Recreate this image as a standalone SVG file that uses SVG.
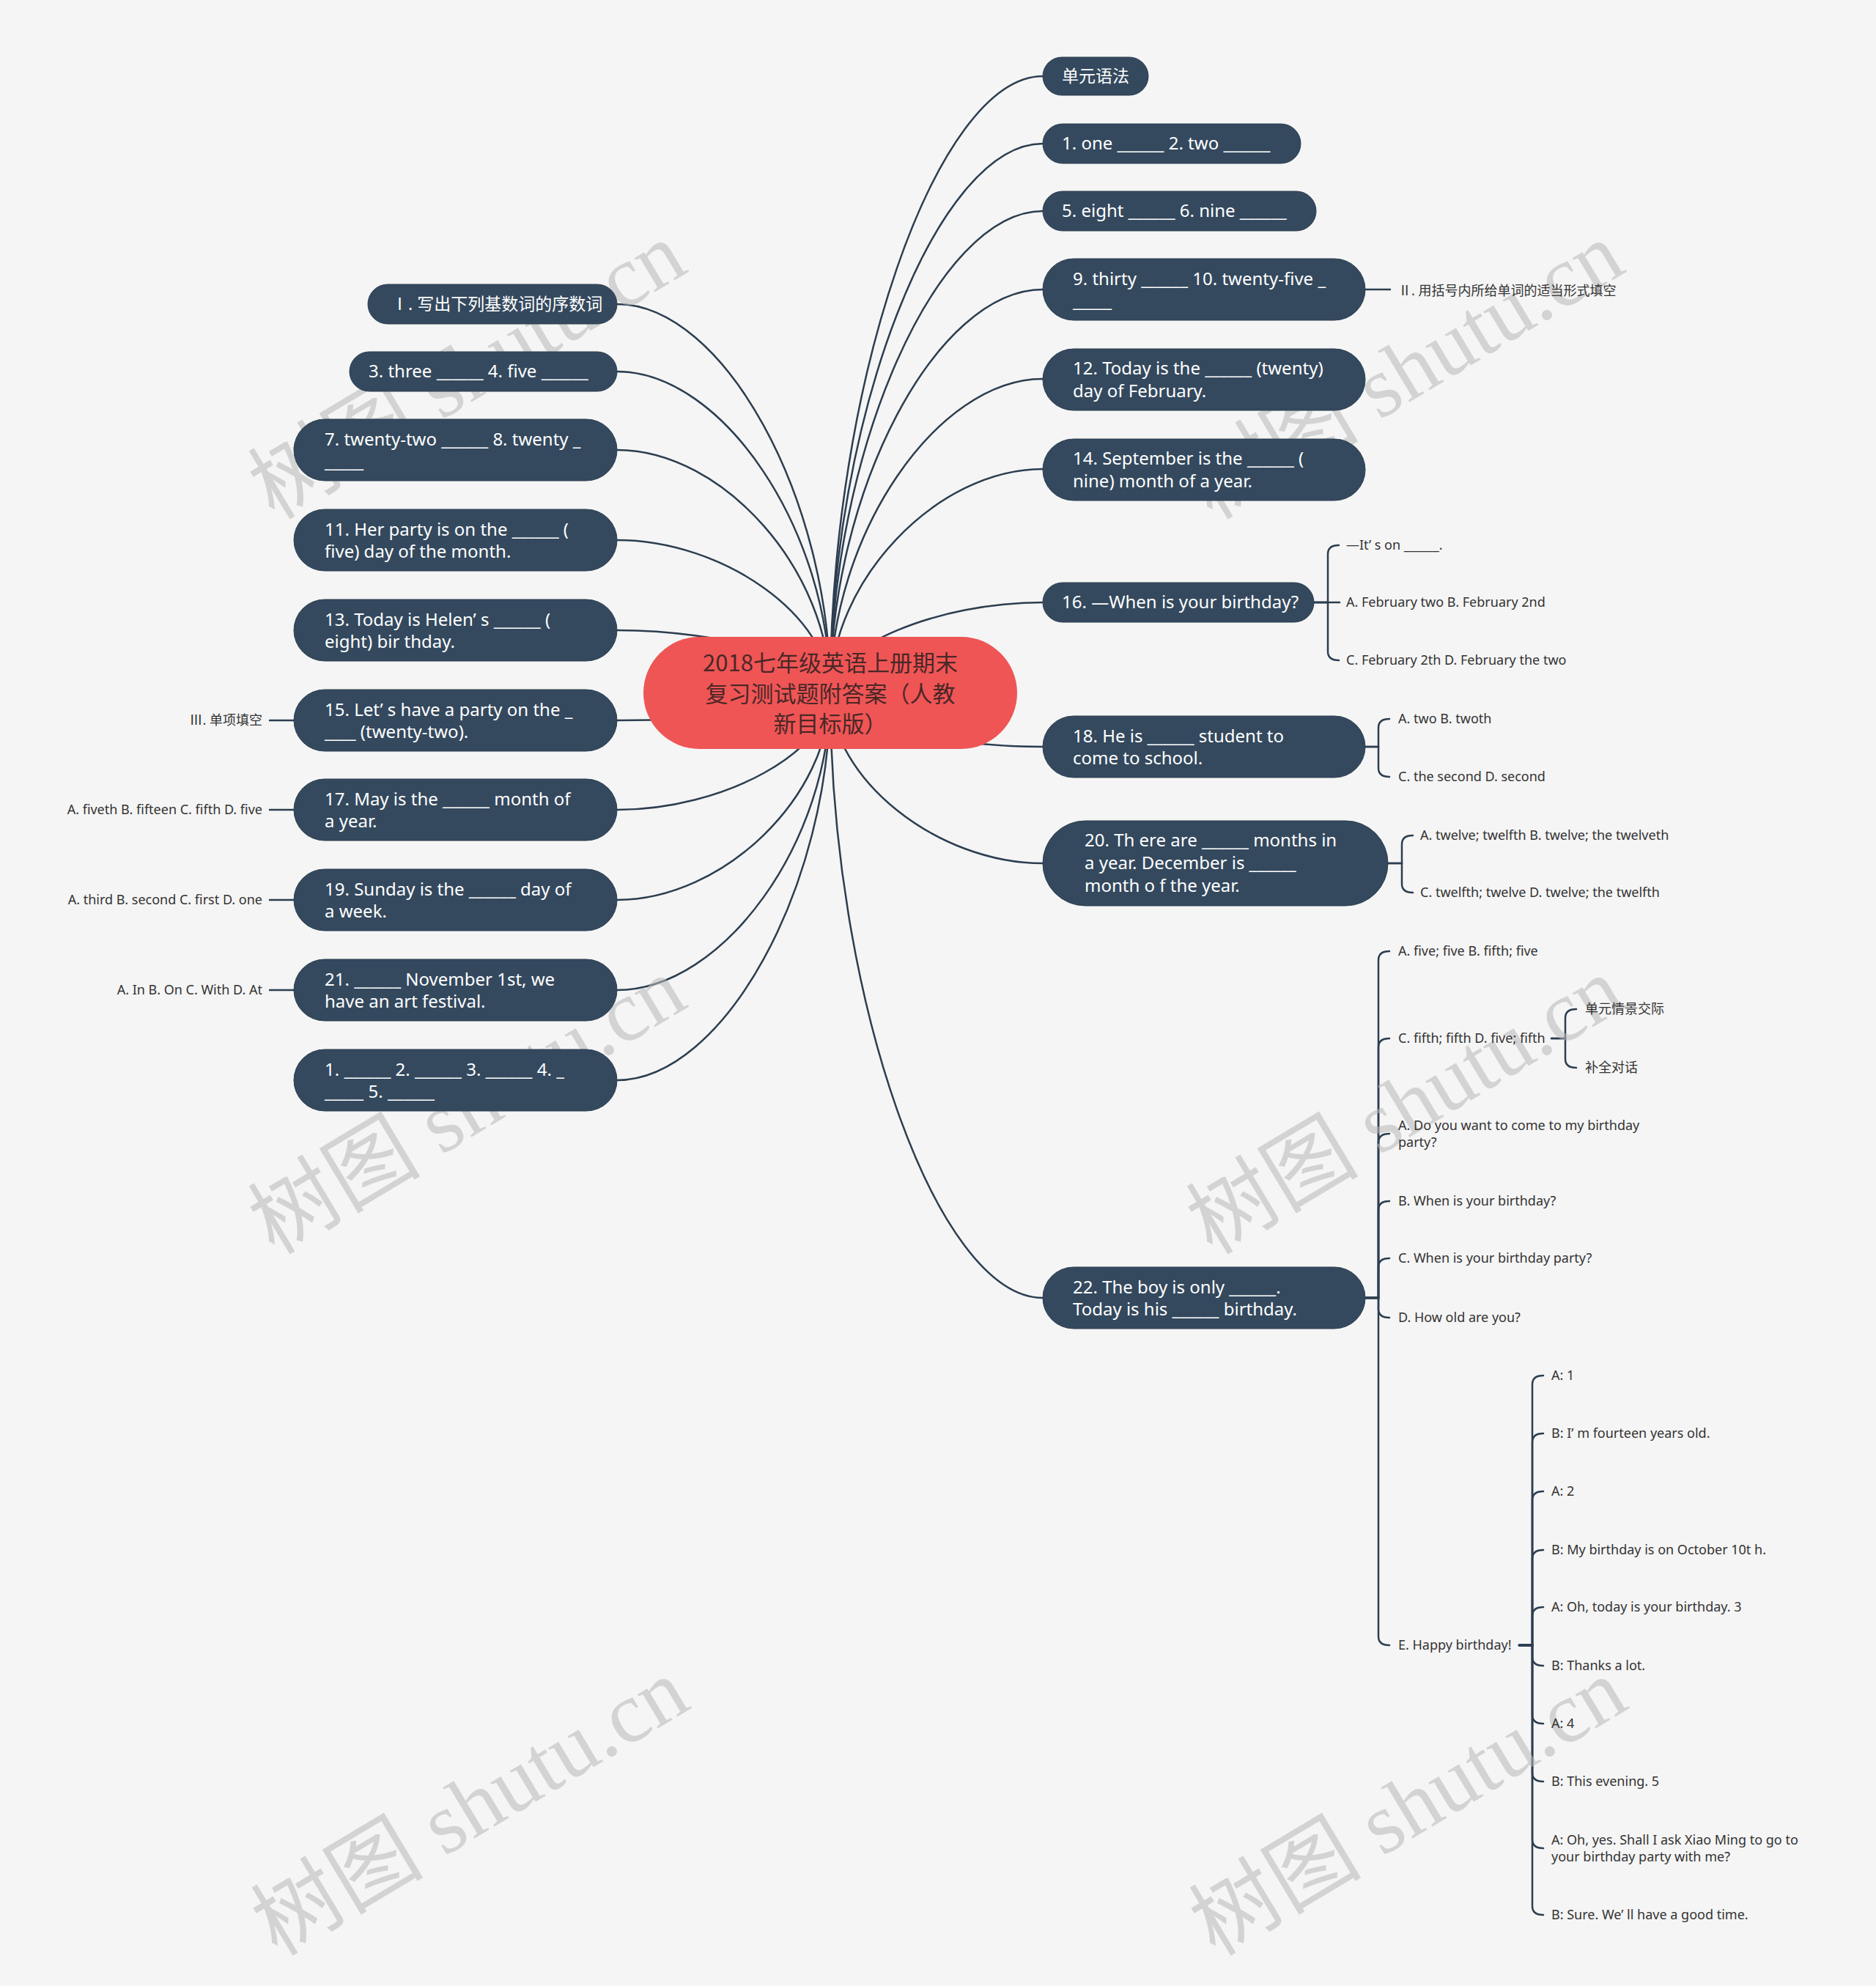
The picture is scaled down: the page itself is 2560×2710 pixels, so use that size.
<svg xmlns="http://www.w3.org/2000/svg" width="2560" height="2710" viewBox="0 0 2560 2710">
<style>
.bg{fill:#f5f5f5}
.link{fill:none;stroke:#2c3e50;stroke-width:2.5;stroke-linecap:round}
.box{fill:#34495e;stroke:#2c3e50;stroke-width:1}
.nt{fill:#ffffff;font-family:"Noto Sans","Noto Sans CJK SC",sans-serif;font-size:24px}
.cj{font-size:23px}
.lf{fill:#333333;font-family:"Noto Sans","Noto Sans CJK SC",sans-serif;font-size:18px}
.rootbox{fill:#ef5555}
.rt{fill:#4a2727;font-family:"Noto Sans CJK SC","Noto Sans",sans-serif;font-size:31px;text-anchor:middle}
.wm{fill:#b9b9b9;opacity:0.55;font-family:"Liberation Serif","Noto Sans CJK SC",serif;font-size:118px;text-anchor:middle}
.end{text-anchor:end}
</style>
<rect class="bg" x="0" y="0" width="2560" height="2710"/>

<g id="connectors">
<path class="link" d="M1133 945 C1133 524.5 1278 104 1423 104"/>
<path class="link" d="M1133 945 C1133 570.5 1278 196 1423 196"/>
<path class="link" d="M1133 945 C1133 616.5 1278 288 1423 288"/>
<path class="link" d="M1133 945 C1133 670 1278 395 1423 395"/>
<path class="link" d="M1133 945 C1133 731 1278 517 1423 517"/>
<path class="link" d="M1133 945 C1133 792.5 1278 640 1423 640"/>
<path class="link" d="M1133 945 C1133 883.5 1278 822 1423 822"/>
<path class="link" d="M1133 945 C1133 982 1278 1019 1423 1019"/>
<path class="link" d="M1133 945 C1133 1061.5 1278 1178 1423 1178"/>
<path class="link" d="M1133 945 C1133 1358 1278 1771 1423 1771"/>
<path class="link" d="M1133 945 C1133 680 987.5 415 842 415"/>
<path class="link" d="M1133 945 C1133 726 987.5 507 842 507"/>
<path class="link" d="M1133 945 C1133 779.5 987.5 614 842 614"/>
<path class="link" d="M1133 945 C1133 841 987.5 737 842 737"/>
<path class="link" d="M1133 945 C1133 902.5 987.5 860 842 860"/>
<path class="link" d="M1133 945 C1133 964 987.5 983 842 983"/>
<path class="link" d="M1133 945 C1133 1025 987.5 1105 842 1105"/>
<path class="link" d="M1133 945 C1133 1086.5 987.5 1228 842 1228"/>
<path class="link" d="M1133 945 C1133 1148 987.5 1351 842 1351"/>
<path class="link" d="M1133 945 C1133 1209.5 987.5 1474 842 1474"/>
<path class="link" d="M401 983 H368"/>
<path class="link" d="M401 1105 H368"/>
<path class="link" d="M401 1228 H368"/>
<path class="link" d="M401 1351 H368"/>
<path class="link" d="M1863 395 H1897"/>
<path class="link" d="M1793 822 H1812 V756 Q1812 744 1827 744"/>
<path class="link" d="M1793 822 H1828"/>
<path class="link" d="M1793 822 H1812 V889 Q1812 901 1827 901"/>
<path class="link" d="M1863 1019 H1881 V993 Q1881 981 1896 981"/>
<path class="link" d="M1863 1019 H1881 V1048 Q1881 1060 1896 1060"/>
<path class="link" d="M1894 1178 H1913 V1152 Q1913 1140 1928 1140"/>
<path class="link" d="M1894 1178 H1913 V1206 Q1913 1218 1928 1218"/>
<path class="link" d="M1863 1771 H1881 V1310 Q1881 1298 1896 1298"/>
<path class="link" d="M1863 1771 H1881 V1429 Q1881 1417 1896 1417"/>
<path class="link" d="M1863 1771 H1881 V1559 Q1881 1547 1896 1547"/>
<path class="link" d="M1863 1771 H1881 V1651 Q1881 1639 1896 1639"/>
<path class="link" d="M1863 1771 H1881 V1729 Q1881 1717 1896 1717"/>
<path class="link" d="M1863 1771 H1881 V1786 Q1881 1798 1896 1798"/>
<path class="link" d="M1863 1771 H1881 V2233 Q1881 2245 1896 2245"/>
<path class="link" d="M2117 1417 H2136 V1389 Q2136 1377 2151 1377"/>
<path class="link" d="M2117 1417 H2136 V1445 Q2136 1457 2151 1457"/>
<path class="link" d="M2073 2245 H2091 V1889 Q2091 1877 2106 1877"/>
<path class="link" d="M2073 2245 H2091 V1968 Q2091 1956 2106 1956"/>
<path class="link" d="M2073 2245 H2091 V2047 Q2091 2035 2106 2035"/>
<path class="link" d="M2073 2245 H2091 V2127 Q2091 2115 2106 2115"/>
<path class="link" d="M2073 2245 H2091 V2205 Q2091 2193 2106 2193"/>
<path class="link" d="M2073 2245 H2091 V2261 Q2091 2273 2106 2273"/>
<path class="link" d="M2073 2245 H2091 V2340 Q2091 2352 2106 2352"/>
<path class="link" d="M2073 2245 H2091 V2419 Q2091 2431 2106 2431"/>
<path class="link" d="M2073 2245 H2091 V2510 Q2091 2522 2106 2522"/>
<path class="link" d="M2073 2245 H2091 V2601 Q2091 2613 2106 2613"/>
</g>

<g id="watermarks">
<text class="wm" transform="translate(658 540) rotate(-31)">树图 shutu.cn</text>
<text class="wm" transform="translate(1938 540) rotate(-31)">树图 shutu.cn</text>
<text class="wm" transform="translate(658 1543) rotate(-31)">树图 shutu.cn</text>
<text class="wm" transform="translate(1938 1543) rotate(-31)">树图 shutu.cn</text>
<text class="wm" transform="translate(662 2500) rotate(-31)">树图 shutu.cn</text>
<text class="wm" transform="translate(1942 2500) rotate(-31)">树图 shutu.cn</text>
</g>

<g id="root">
<rect class="rootbox" x="878" y="869" width="510" height="153" rx="76.5"/>
<text class="rt" x="1133" y="916">2018七年级英语上册期末</text>
<text class="rt" x="1133" y="958">复习测试题附答案（人教</text>
<text class="rt" x="1133" y="999">新目标版）</text>
</g>

<g id="r1"><rect class="box" x="1423" y="78" width="144" height="52" rx="26"/><text class="nt cj" x="1449" y="112">单元语法</text></g>
<g id="r2"><rect class="box" x="1423" y="169" width="352" height="54" rx="27"/><text class="nt" x="1449" y="204">1. one ______ 2. two ______</text></g>
<g id="r3"><rect class="box" x="1423" y="261" width="373" height="54" rx="27"/><text class="nt" x="1449" y="296">5. eight ______ 6. nine ______</text></g>
<g id="r4"><rect class="box" x="1423" y="353" width="440" height="84" rx="42"/><text class="nt" x="1464" y="388.5">9. thirty ______ 10. twenty-five _</text><text class="nt" x="1464" y="419">_____</text></g>
<g id="r5"><rect class="box" x="1423" y="476" width="440" height="84" rx="42"/><text class="nt" x="1464" y="511">12. Today is the ______ (twenty)</text><text class="nt" x="1464" y="541.5">day of February.</text></g>
<g id="r6"><rect class="box" x="1423" y="599" width="440" height="84" rx="42"/><text class="nt" x="1464" y="634">14. September is the ______ (</text><text class="nt" x="1464" y="664.5">nine) month of a year.</text></g>
<g id="r7"><rect class="box" x="1423" y="795" width="370" height="54" rx="27"/><text class="nt" x="1449" y="830">16. —When is your birthday?</text></g>
<g id="r8"><rect class="box" x="1423" y="977" width="440" height="84" rx="42"/><text class="nt" x="1464" y="1012.5">18. He is ______ student to</text><text class="nt" x="1464" y="1043">come to school.</text></g>
<g id="r9"><rect class="box" x="1423" y="1120" width="471" height="116" rx="58"/><text class="nt" x="1480" y="1155">20. Th ere are ______ months in</text><text class="nt" x="1480" y="1186">a year. December is ______</text><text class="nt" x="1480" y="1217">month o f the year.</text></g>
<g id="r10"><rect class="box" x="1423" y="1729" width="440" height="84" rx="42"/><text class="nt" x="1464" y="1764.5">22. The boy is only ______.</text><text class="nt" x="1464" y="1795">Today is his ______ birthday.</text></g>

<g id="l1"><rect class="box" x="502" y="388" width="340" height="54" rx="27"/><text class="nt cj" x="534" y="423">Ⅰ. 写出下列基数词的序数词</text></g>
<g id="l2"><rect class="box" x="477" y="480" width="365" height="54" rx="27"/><text class="nt" x="503" y="515">3. three ______ 4. five ______</text></g>
<g id="l3"><rect class="box" x="401" y="572" width="441" height="84" rx="42"/><text class="nt" x="443" y="607.5">7. twenty-two ______ 8. twenty _</text><text class="nt" x="443" y="638">_____</text></g>
<g id="l4"><rect class="box" x="401" y="695" width="441" height="84" rx="42"/><text class="nt" x="443" y="730.5">11. Her party is on the ______ (</text><text class="nt" x="443" y="761">five) day of the month.</text></g>
<g id="l5"><rect class="box" x="401" y="818" width="441" height="84" rx="42"/><text class="nt" x="443" y="853.5">13. Today is Helen’ s ______ (</text><text class="nt" x="443" y="884">eight) bir thday.</text></g>
<g id="l6"><rect class="box" x="401" y="941" width="441" height="84" rx="42"/><text class="nt" x="443" y="976.5">15. Let’ s have a party on the _</text><text class="nt" x="443" y="1007">____ (twenty-two).</text></g>
<g id="l7"><rect class="box" x="401" y="1063" width="441" height="84" rx="42"/><text class="nt" x="443" y="1098.5">17. May is the ______ month of</text><text class="nt" x="443" y="1129">a year.</text></g>
<g id="l8"><rect class="box" x="401" y="1186" width="441" height="84" rx="42"/><text class="nt" x="443" y="1221.5">19. Sunday is the ______ day of</text><text class="nt" x="443" y="1252">a week.</text></g>
<g id="l9"><rect class="box" x="401" y="1309" width="441" height="84" rx="42"/><text class="nt" x="443" y="1344.5">21. ______ November 1st, we</text><text class="nt" x="443" y="1375">have an art festival.</text></g>
<g id="l10"><rect class="box" x="401" y="1432" width="441" height="84" rx="42"/><text class="nt" x="443" y="1467.5">1. ______ 2. ______ 3. ______ 4. _</text><text class="nt" x="443" y="1498">_____ 5. ______</text></g>

<g id="l6a"><text class="lf end" x="358" y="989">Ⅲ. 单项填空</text></g>
<g id="l7a"><text class="lf end" x="358" y="1111">A. fiveth B. fifteen C. fifth D. five</text></g>
<g id="l8a"><text class="lf end" x="358" y="1234">A. third B. second C. first D. one</text></g>
<g id="l9a"><text class="lf end" x="358" y="1357">A. In B. On C. With D. At</text></g>

<g id="r4a"><text class="lf" x="1908" y="403">Ⅱ. 用括号内所给单词的适当形式填空</text></g>
<g id="r7a"><text class="lf" x="1837" y="750">—It’ s on ______.</text></g>
<g id="r7b"><text class="lf" x="1837" y="828">A. February two B. February 2nd</text></g>
<g id="r7c"><text class="lf" x="1837" y="907">C. February 2th D. February the two</text></g>
<g id="r8a"><text class="lf" x="1908" y="987">A. two B. twoth</text></g>
<g id="r8b"><text class="lf" x="1908" y="1066">C. the second D. second</text></g>
<g id="r9a"><text class="lf" x="1938" y="1146">A. twelve; twelfth B. twelve; the twelveth</text></g>
<g id="r9b"><text class="lf" x="1938" y="1224">C. twelfth; twelve D. twelve; the twelfth</text></g>
<g id="r10a"><text class="lf" x="1908" y="1304">A. five; five B. fifth; five</text></g>
<g id="r10b"><text class="lf" x="1908" y="1423">C. fifth; fifth D. five; fifth</text></g>
<g id="r10b1"><text class="lf" x="2163" y="1383">单元情景交际</text></g>
<g id="r10b2"><text class="lf" x="2163" y="1463">补全对话</text></g>
<g id="r10c"><text class="lf" x="1908" y="1542">A. Do you want to come to my birthday</text><text class="lf" x="1908" y="1565">party?</text></g>
<g id="r10d"><text class="lf" x="1908" y="1645">B. When is your birthday?</text></g>
<g id="r10e"><text class="lf" x="1908" y="1723">C. When is your birthday party?</text></g>
<g id="r10f"><text class="lf" x="1908" y="1804">D. How old are you?</text></g>
<g id="r10g"><text class="lf" x="1908" y="2251">E. Happy birthday!</text></g>
<g id="e1"><text class="lf" x="2117" y="1883">A: 1</text></g>
<g id="e2"><text class="lf" x="2117" y="1962">B: I’ m fourteen years old.</text></g>
<g id="e3"><text class="lf" x="2117" y="2041">A: 2</text></g>
<g id="e4"><text class="lf" x="2117" y="2121">B: My birthday is on October 10t h.</text></g>
<g id="e5"><text class="lf" x="2117" y="2199">A: Oh, today is your birthday. 3</text></g>
<g id="e6"><text class="lf" x="2117" y="2279">B: Thanks a lot.</text></g>
<g id="e7"><text class="lf" x="2117" y="2358">A: 4</text></g>
<g id="e8"><text class="lf" x="2117" y="2437">B: This evening. 5</text></g>
<g id="e9"><text class="lf" x="2117" y="2517">A: Oh, yes. Shall I ask Xiao Ming to go to</text><text class="lf" x="2117" y="2540">your birthday party with me?</text></g>
<g id="e10"><text class="lf" x="2117" y="2619">B: Sure. We’ ll have a good time.</text></g>
</svg>
